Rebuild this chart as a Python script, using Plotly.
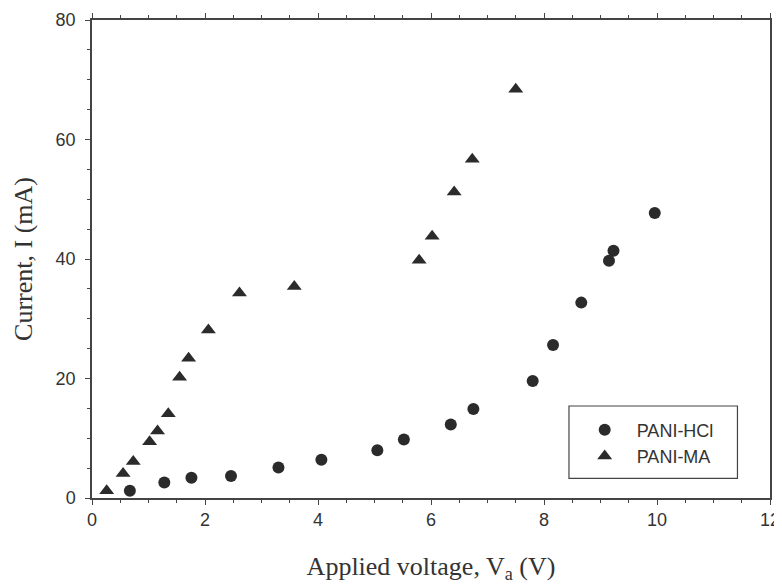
import plotly.graph_objects as go

# PANI-HCl (circles)
hcl_v = [0.67, 1.28, 1.76, 2.46, 3.30, 4.06, 5.05, 5.52, 6.35, 6.75, 7.80, 8.16, 8.66, 9.15, 9.23, 9.96]
hcl_i = [1.2, 2.6, 3.4, 3.7, 5.1, 6.4, 8.0, 9.8, 12.3, 14.9, 19.6, 25.6, 32.7, 39.7, 41.4, 47.7]

# PANI-MA (triangles)
ma_v = [0.26, 0.55, 0.73, 1.02, 1.16, 1.35, 1.55, 1.71, 2.06, 2.61, 3.58, 5.79, 6.02, 6.41, 6.73, 7.50]
ma_i = [1.2, 4.1, 6.1, 9.4, 11.2, 14.1, 20.2, 23.4, 28.1, 34.3, 35.4, 39.8, 43.8, 51.2, 56.7, 68.4]

mark_color = "#2b2b2b"
axis_color = "#444444"
serif = "Liberation Serif, Times New Roman, serif"
sans = "Liberation Sans, Arial, sans-serif"

fig = go.Figure()
fig.add_trace(go.Scatter(x=hcl_v, y=hcl_i, mode="markers", name="PANI-HCl",
                         marker=dict(symbol="circle", size=12, color=mark_color)))
fig.add_trace(go.Scatter(x=ma_v, y=ma_i, mode="markers", name="PANI-MA",
                         marker=dict(symbol="triangle-up", size=13, color=mark_color)))

# legend frame
fig.add_shape(type="rect", xref="paper", yref="paper",
              x0=0.7035, x1=0.952, y0=0.041, y1=0.1925,
              line=dict(color=axis_color, width=1.2), fillcolor="rgba(0,0,0,0)")

fig.update_xaxes(range=[0, 12], tick0=0, dtick=2, showgrid=False, zeroline=False,
                 showline=True, linecolor=axis_color, linewidth=1.5, mirror="ticks",
                 ticks="outside", ticklen=5, tickcolor=axis_color, automargin=False,
                 minor=dict(dtick=0.5, ticks="outside", ticklen=3, tickcolor=axis_color),
                 tickfont=dict(family=sans, size=18, color="#333333"),
                 title=dict(text="Applied voltage, V<sub>a</sub> (V)",
                            font=dict(family=serif, size=26, color="#333333"), standoff=27))
fig.update_yaxes(range=[0, 80], tick0=0, dtick=20, showgrid=False, zeroline=False,
                 showline=True, linecolor=axis_color, linewidth=1.5, mirror=True,
                 ticks="outside", ticklen=5, tickcolor=axis_color, automargin=False,
                 minor=dict(dtick=5, ticks="outside", ticklen=3, tickcolor=axis_color),
                 ticklabelstandoff=6,
                 tickfont=dict(family=sans, size=18, color="#333333"),
                 title=dict(text="Current, I (mA)",
                            font=dict(family=serif, size=26, color="#333333"), standoff=16))

# page body has an 8px margin, so the figure is shrunk by that much
fig.update_layout(
    width=774, height=577,
    margin=dict(l=84, r=12, t=12, b=87),
    plot_bgcolor="white", paper_bgcolor="white",
    legend=dict(x=0.709, y=0.181, xanchor="left", yanchor="top",
                bgcolor="rgba(0,0,0,0)", borderwidth=0, itemwidth=54,
                font=dict(family=sans, size=18, color="#333333")),
)

fig.write_html("out.html")
